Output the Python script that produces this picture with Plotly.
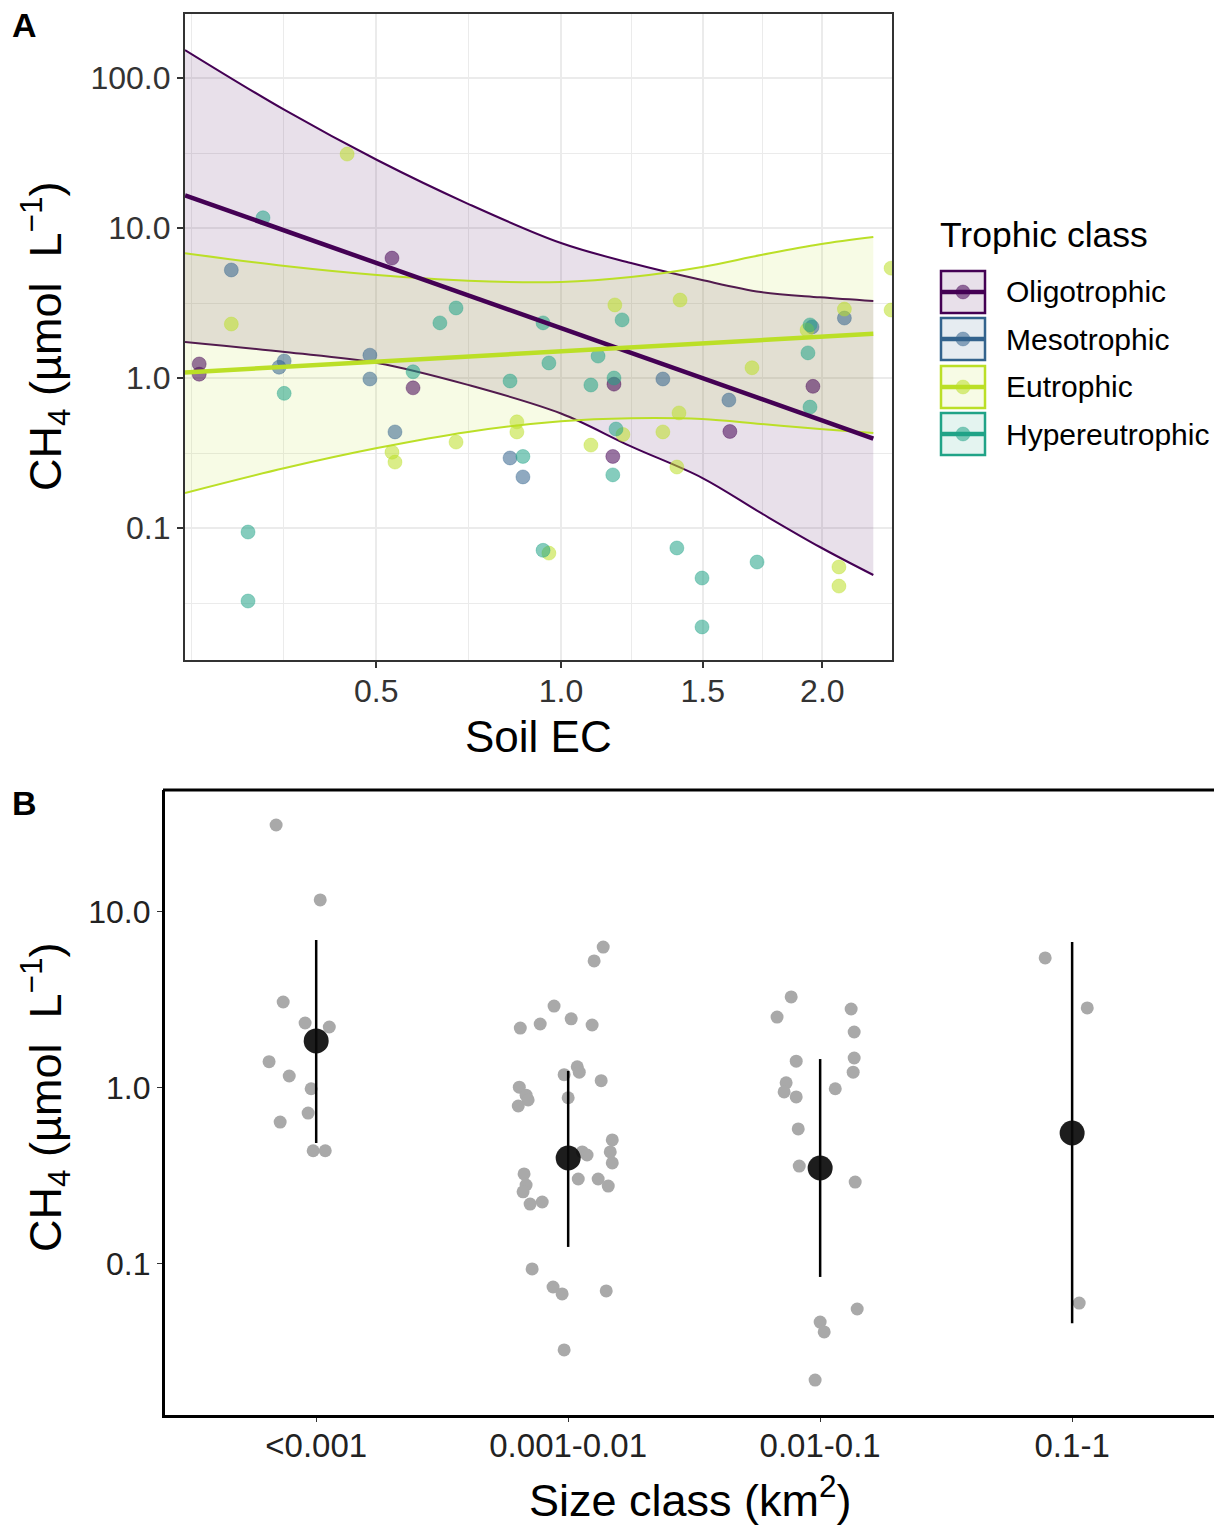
import numpy as np
import plotly.graph_objects as go

W, H = 1214, 1526
FONT = "Liberation Sans, Arial, Helvetica, sans-serif"

# ---------------- Panel A data ----------------
classes = ["Oligotrophic", "Mesotrophic", "Eutrophic", "Hypereutrophic"]
colors = {"Oligotrophic": "#440154", "Mesotrophic": "#33638D",
          "Eutrophic": "#BBDF27", "Hypereutrophic": "#20A387"}

oligo_ec = [0.182, 0.182, 0.536, 0.586, 1.175, 1.171, 1.607, 1.958]
oligo_ch4 = [1.24, 1.06, 6.3, 0.86, 0.91, 0.30, 0.44, 0.88]

meso_ec = [0.228, 0.315, 0.306, 0.486, 0.486, 0.543, 0.845, 0.883, 1.349, 1.603, 1.954, 2.10]
meso_ch4 = [5.25, 1.30, 1.18, 1.42, 0.985, 0.437, 0.293, 0.219, 0.985, 0.713, 2.19, 2.51]

eu_ec = [0.437, 0.228, 0.536, 0.543, 0.695, 0.865, 0.865, 0.962, 1.097, 1.206, 1.349,
         1.409, 1.401, 1.697, 2.075, 2.075, 1.178, 1.413, 2.10, 1.932, 2.32, 2.32]
eu_ch4 = [31.1, 2.29, 0.32, 0.275, 0.374, 0.51, 0.437, 0.068, 0.357, 0.42, 0.437,
          0.585, 0.255, 1.17, 0.055, 0.041, 3.07, 3.31, 2.88, 2.09, 5.4, 2.84]

hyper_ec = [0.2785, 0.695, 0.653, 0.944, 0.315, 0.586, 0.845, 0.883, 0.254, 0.254, 0.944,
            0.962, 1.121, 1.097, 1.175, 1.182, 1.171, 1.401, 1.497, 1.497, 1.718, 1.936,
            1.945, 1.203, 1.945]
hyper_ch4 = [11.7, 2.93, 2.33, 2.33, 0.79, 1.10, 0.955, 0.30, 0.094, 0.0326, 0.071,
             1.26, 1.40, 0.898, 1.0, 0.457, 0.226, 0.0736, 0.0464, 0.0219, 0.0593, 1.47,
             0.64, 2.44, 2.26]

# fitted lines (end points) and confidence bands
fit_ec = [0.1633, 2.235]
oligo_fit = [16.5, 0.395]
eu_fit = [1.09, 1.97]

band_ec = [0.1633, 0.3165, 0.502, 0.727, 1.0, 1.234, 1.497, 1.734, 1.989, 2.235]
oligo_upper = [153.7, 61.0, 28.4, 14.5, 7.94, 5.84, 4.5, 3.74, 3.45, 3.26]
oligo_lower = [1.74, 1.49, 1.26, 0.90, 0.58, 0.35, 0.216, 0.126, 0.0747, 0.0486]
eu_upper = [6.8, 5.58, 4.86, 4.45, 4.37, 4.71, 5.5, 6.6, 7.8, 8.71]
eu_lower = [0.171, 0.251, 0.341, 0.437, 0.515, 0.54, 0.533, 0.494, 0.457, 0.43]

x_ticks_A = [0.5, 1.0, 1.5, 2.0]
x_ticklabels_A = ["0.5", "1.0", "1.5", "2.0"]
y_ticks_A = [0.1, 1, 10, 100]
y_ticklabels_A = ["0.1", "1.0", "10.0", "100.0"]

# ---------------- Panel B data ----------------
size_classes = ["<0.001", "0.001-0.01", "0.01-0.1", "0.1-1"]
cat0_ch4 = [31.2, 11.7, 3.08, 2.34, 2.22, 1.41, 1.17, 0.99, 0.72, 0.64, 0.44, 0.44]
cat0_jit = [-0.159, 0.016, -0.131, -0.044, 0.052, -0.187, -0.107, -0.020, -0.032, -0.143, -0.012, 0.036]
cat1_ch4 = [6.32, 5.27, 2.92, 2.19, 2.31, 2.47, 2.28, 1.19, 1.32, 1.23, 1.10, 1.01, 0.91, 0.855,
            0.79, 0.88, 0.507, 0.433, 0.375, 0.433, 0.416, 0.304, 0.304, 0.277, 0.325, 0.281,
            0.257, 0.219, 0.225, 0.0937, 0.074, 0.0676, 0.0703, 0.0325]
cat1_jit = [0.139, 0.103, -0.056, -0.190, -0.111, 0.012, 0.095, -0.016, 0.036, 0.044, 0.131,
            -0.194, -0.167, -0.159, -0.198, 0.0, 0.175, 0.167, 0.175, 0.056, 0.075, 0.040,
            0.119, 0.159, -0.175, -0.167, -0.179, -0.151, -0.103, -0.143, -0.060, -0.024,
            0.151, -0.016]
cat2_ch4 = [3.29, 2.53, 2.81, 2.08, 1.42, 1.48, 1.23, 1.07, 0.95, 0.89, 0.99, 0.585, 0.36,
            0.292, 0.0555, 0.0468, 0.0411, 0.0219]
cat2_jit = [-0.115, -0.171, 0.123, 0.135, -0.095, 0.135, 0.131, -0.135, -0.143, -0.095, 0.060,
            -0.087, -0.083, 0.139, 0.147, 0.0, 0.016, -0.020]
cat3_ch4 = [5.48, 2.85, 0.060]
cat3_jit = [-0.107, 0.060, 0.028]

mean_ch4 = [1.85, 0.40, 0.351, 0.555]
ci_low = [0.487, 0.125, 0.0844, 0.046]
ci_high = [6.93, 1.25, 1.46, 6.76]

y_ticks_B = [0.1, 1, 10]
y_ticklabels_B = ["0.1", "1.0", "10.0"]


def hexrgba(h, a):
    h = h.lstrip("#")
    r, g, b = int(h[0:2], 16), int(h[2:4], 16), int(h[4:6], 16)
    return f"rgba({r},{g},{b},{a})"


def px(xp):
    return xp / W


def py(yp):
    return 1 - yp / H


sq = np.sqrt
fig = go.Figure()

# ---- ribbons ----
for up, lo, cname in [(oligo_upper, oligo_lower, "Oligotrophic"), (eu_upper, eu_lower, "Eutrophic")]:
    c = colors[cname]
    fig.add_trace(go.Scatter(x=sq(band_ec), y=lo, mode="lines",
                             line=dict(color=c, width=2, shape="spline", smoothing=1.0),
                             xaxis="x", yaxis="y", showlegend=False, hoverinfo="skip"))
    fig.add_trace(go.Scatter(x=sq(band_ec), y=up, mode="lines",
                             line=dict(color=c, width=2, shape="spline", smoothing=1.0),
                             fill="tonexty", fillcolor=hexrgba(c, 0.12),
                             xaxis="x", yaxis="y", showlegend=False, hoverinfo="skip"))

# ---- points ----
pts = [("Oligotrophic", oligo_ec, oligo_ch4), ("Mesotrophic", meso_ec, meso_ch4),
       ("Eutrophic", eu_ec, eu_ch4), ("Hypereutrophic", hyper_ec, hyper_ch4)]
for cname, ec, ch4 in pts:
    c = colors[cname]
    fig.add_trace(go.Scatter(x=sq(ec), y=ch4, mode="markers",
                             marker=dict(size=14, color=hexrgba(c, 0.55), line=dict(color=hexrgba(c, 0.35), width=1)),
                             xaxis="x", yaxis="y", showlegend=False, name=cname))

# ---- fitted lines ----
fig.add_trace(go.Scatter(x=sq(fit_ec), y=oligo_fit, mode="lines", line=dict(color=colors["Oligotrophic"], width=4.5),
                         xaxis="x", yaxis="y", showlegend=False))
fig.add_trace(go.Scatter(x=sq(fit_ec), y=eu_fit, mode="lines", line=dict(color=colors["Eutrophic"], width=4.5),
                         xaxis="x", yaxis="y", showlegend=False))

# ---- Panel B ----
cats = [(cat0_ch4, cat0_jit), (cat1_ch4, cat1_jit), (cat2_ch4, cat2_jit), (cat3_ch4, cat3_jit)]
bx, by = [], []
for i, (vals, jit) in enumerate(cats):
    bx += [i + j for j in jit]
    by += vals
fig.add_trace(go.Scatter(x=bx, y=by, mode="markers", marker=dict(size=13, color="#A9A9A9"),
                         xaxis="x2", yaxis="y2", showlegend=False))
ex, ey = [], []
for i in range(len(size_classes)):
    ex += [i, i, None]
    ey += [ci_low[i], ci_high[i], None]
fig.add_trace(go.Scatter(x=ex, y=ey, mode="lines", line=dict(color="black", width=2.5),
                         xaxis="x2", yaxis="y2", showlegend=False))
fig.add_trace(go.Scatter(x=list(range(len(size_classes))), y=mean_ch4, mode="markers",
                         marker=dict(size=25, color="rgba(10,10,10,0.92)"),
                         xaxis="x2", yaxis="y2", showlegend=False))

# ---- axes ----
maj = sq(np.array(x_ticks_A))
bd = maj[1] - maj[0]
ext = np.concatenate([[maj[0] - bd], maj, [maj[-1] + bd]])
x_minor = list(ext[:1]) + list((ext[:-1] + ext[1:]) / 2)

gridc = "#EBEBEB"
fig.update_layout(
    width=W, height=H, margin=dict(l=0, r=0, t=0, b=0),
    paper_bgcolor="white", plot_bgcolor="white",
    font=dict(family=FONT, color="#333333"),
    xaxis=dict(domain=[px(185), px(892)], anchor="y", range=[0.4041, 1.5246],
               tickmode="array", tickvals=list(maj), ticktext=x_ticklabels_A,
               showgrid=True, gridcolor=gridc, gridwidth=1.6, zeroline=False,
               minor=dict(tickvals=x_minor, showgrid=True, gridcolor=gridc, gridwidth=1.2, ticks=""),
               showline=True, mirror=True, linecolor="#333333", linewidth=2.2,
               ticks="outside", ticklen=6, tickwidth=1.6, tickcolor="#333333",
               ticklabelstandoff=-5,
               tickfont=dict(size=32, color="#333333", family=FONT)),
    yaxis=dict(domain=[py(660), py(14)], anchor="x", type="log", range=[-1.88, 2.4267],
               tickmode="array", tickvals=y_ticks_A, ticktext=y_ticklabels_A,
               showgrid=True, gridcolor=gridc, gridwidth=1.6, zeroline=False,
               minor=dict(tickvals=[0.0316, 0.316, 3.16, 31.6], showgrid=True, gridcolor=gridc, gridwidth=1.2, ticks=""),
               showline=True, mirror=True, linecolor="#333333", linewidth=2.2,
               ticks="outside", ticklen=6, tickwidth=1.6, tickcolor="#333333",
               tickfont=dict(size=32, color="#333333", family=FONT)),
    xaxis2=dict(domain=[px(165), 1.0], anchor="y2", range=[-0.6, 3.563],
                tickmode="array", tickvals=list(range(len(size_classes))), ticktext=size_classes,
                showgrid=False, zeroline=False,
                showline=True, linecolor="black", linewidth=3.2,
                ticks="outside", ticklen=4, tickwidth=1.2, tickcolor="#333333",
                ticklabelstandoff=-5,
                tickfont=dict(size=33, color="#222222", family=FONT)),
    yaxis2=dict(domain=[py(1415), py(790)], anchor="x2", type="log", range=[-1.858, 1.693],
                tickmode="array", tickvals=y_ticks_B, ticktext=y_ticklabels_B,
                showgrid=False, zeroline=False,
                showline=True, linecolor="black", linewidth=3.2,
                ticks="outside", ticklen=5, tickwidth=1.2, tickcolor="#333333",
                tickfont=dict(size=32, color="#222222", family=FONT)),
)

shapes = []
# top border of panel B
shapes.append(dict(type="line", xref="paper", yref="paper", x0=px(163), x1=1.0, y0=py(790), y1=py(790),
                   line=dict(color="black", width=3.2)))

# legend
leg_rows = [292, 339, 387, 434]
for cname, cy in zip(classes, leg_rows):
    c = colors[cname]
    shapes.append(dict(type="rect", xref="paper", yref="paper", x0=px(941), x1=px(985),
                       y0=py(cy + 21), y1=py(cy - 21), fillcolor=hexrgba(c, 0.12),
                       line=dict(color=c, width=2.5)))
    shapes.append(dict(type="line", xref="paper", yref="paper", x0=px(942), x1=px(984),
                       y0=py(cy), y1=py(cy), line=dict(color=c, width=4.5)))
    shapes.append(dict(type="circle", xref="paper", yref="paper", x0=px(956), x1=px(970),
                       y0=py(cy + 7), y1=py(cy - 7), fillcolor=hexrgba(c, 0.55),
                       line=dict(color=hexrgba(c, 0.3), width=1)))

annotations = []
annotations.append(dict(text="<b>A</b>", x=px(10), y=py(25), xref="paper", yref="paper",
                        xanchor="left", yanchor="middle", showarrow=False, font=dict(size=34, color="black")))
annotations.append(dict(text="<b>B</b>", x=px(10), y=py(803), xref="paper", yref="paper",
                        xanchor="left", yanchor="middle", showarrow=False, font=dict(size=34, color="black")))
ytitle = "CH<sub>4</sub> (µmol  L<sup>−1</sup>)"
annotations.append(dict(text=ytitle, x=px(45), y=py(337), xref="paper", yref="paper", textangle=-90,
                        xanchor="center", yanchor="middle", showarrow=False, font=dict(size=45, color="black")))
annotations.append(dict(text=ytitle, x=px(45), y=py(1098), xref="paper", yref="paper", textangle=-90,
                        xanchor="center", yanchor="middle", showarrow=False, font=dict(size=45, color="black")))
annotations.append(dict(text="Soil EC", x=px(538), y=py(736), xref="paper", yref="paper",
                        xanchor="center", yanchor="middle", showarrow=False, font=dict(size=44, color="black")))
annotations.append(dict(text="Size class (km<sup>2</sup>)", x=px(690), y=py(1497), xref="paper", yref="paper",
                        xanchor="center", yanchor="middle", showarrow=False, font=dict(size=45, color="black")))
annotations.append(dict(text="Trophic class", x=px(938), y=py(235), xref="paper", yref="paper",
                        xanchor="left", yanchor="middle", showarrow=False, font=dict(size=35.5, color="black")))
for cname, cy in zip(classes, leg_rows):
    annotations.append(dict(text=cname, x=px(1004), y=py(cy), xref="paper", yref="paper",
                            xanchor="left", yanchor="middle", showarrow=False, font=dict(size=30, color="black")))

fig.update_layout(shapes=shapes, annotations=annotations)
fig.write_html("out.html")
